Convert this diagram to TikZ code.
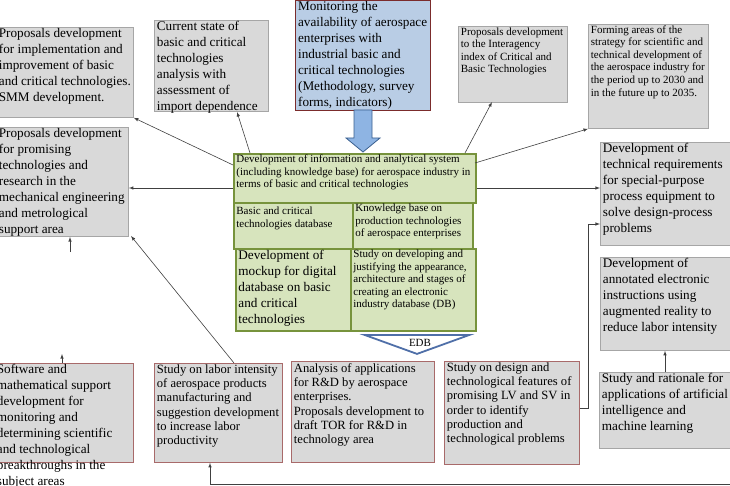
\documentclass[tikz,border=0pt]{standalone}
\usepackage{fontspec}
\usetikzlibrary{shapes.geometric}
\setmainfont{Liberation Serif}
\definecolor{gfill}{HTML}{D9D9D9}
\definecolor{gline}{HTML}{A6A6A6}
\definecolor{rline}{HTML}{A86A6A}
\definecolor{bfill}{HTML}{B9CDE5}
\definecolor{bline}{HTML}{7B2C2C}
\definecolor{grfill}{HTML}{D7E4BD}
\definecolor{grline}{HTML}{77933C}
\definecolor{arrfill}{HTML}{8EB4E3}
\definecolor{arrline}{HTML}{3A5F8F}
\definecolor{edbline}{HTML}{4F6FA8}
\tikzset{
  gbox/.style={draw=gline,fill=gfill,line width=0.8pt},
  rbox/.style={draw=rline,fill=gfill,line width=0.8pt},
  bbox/.style={draw=bline,fill=bfill,line width=1.2pt},
  grbox/.style={draw=grline,fill=grfill,line width=1.8pt},
  conn/.style={-latex,line width=0.6pt,draw=black!75},
}
% #1 style, #2 name, #3 x, #4 y, #5 w, #6 h, #7 font, #8 text
\newcommand\bx[8]{\node[#1,anchor=north west,minimum width=#5pt,minimum height=#6pt,inner sep=0pt] (#2) at (#3,#4) {\begin{minipage}[t][\dimexpr#6pt-2pt\relax][t]{\dimexpr#5pt-5pt\relax}\vspace{0pt}#7\raggedright #8\end{minipage}};}
\newcommand\fbig{\fontsize{13.2}{16}\selectfont}
\newcommand\fmid{\fontsize{12.6}{14.3}\selectfont}
\newcommand\fsml{\fontsize{11}{12.6}\selectfont}
\begin{document}
\begin{tikzpicture}[x=1pt,y=-1pt]
\useasboundingbox (0,0) rectangle (730,486);
\bx{gbox}{A}{-4}{27}{137}{90}{\fbig}{Proposals development for implementation and improvement of basic and critical technologies. SMM development.}
\bx{gbox}{B}{154}{20}{114}{91}{\fbig}{Current state of basic and critical technologies analysis with assessment of import dependence}
\bx{bbox}{C}{295}{0}{135}{110}{\fbig}{Monitoring the availability of aerospace enterprises with industrial basic and critical technologies (Methodology, survey forms, indicators)}
\bx{gbox}{D}{458}{26}{109}{76}{\fsml}{Proposals development to the Interagency index of Critical and Basic Technologies}
\bx{gbox}{E}{588}{24}{120}{104}{\fsml}{Forming areas of the strategy for scientific and technical development of the aerospace industry for the period up to 2030 and in the future up to 2035.}
\bx{gbox}{F}{-4}{127}{132}{109}{\fbig}{Proposals development for promising technologies and research in the mechanical engineering and metrological support area}
\bx{grbox}{G}{233}{153}{242}{49}{\fsml}{Development of information and analytical system (including knowledge base) for aerospace industry in terms of basic and critical technologies}
\bx{grbox}{H}{233}{202}{119}{46}{\fsml}{\vspace{3pt}Basic and critical technologies database}
\bx{grbox}{I}{352}{202}{120}{46}{\fsml}{Knowledge base on production technologies of aerospace enterprises}
\bx{grbox}{J}{235}{248}{115}{82}{\fbig}{Development of mockup for digital database on basic and critical technologies}
\bx{grbox}{K}{350}{248}{125}{82}{\fsml}{Study on developing and justifying the appearance, architecture and stages of creating an electronic industry database (DB)}
\bx{gbox}{L}{600}{142}{134}{103}{\fbig}{Development of technical requirements for special-purpose process equipment to solve design-process problems}
\bx{gbox}{M}{600}{257}{134}{93}{\fbig}{Development of annotated electronic instructions using augmented reality to reduce labor intensity}
\bx{gbox}{N}{599}{372}{135}{76}{\fbig}{Study and rationale for applications of artificial intelligence and machine learning}
\bx{rbox}{O}{-6}{363}{139}{99}{\fbig}{Software and mathematical support development for monitoring and determining scientific and technological breakthroughs in the subject areas}
\bx{rbox}{P}{154}{363}{128}{99}{\fmid}{Study on labor intensity of aerospace products manufacturing and suggestion development to increase labor productivity}
\bx{rbox}{Q}{291}{361}{143}{101}{\fmid}{\vspace{1pt}Analysis of applications for R\&D by aerospace enterprises.\\ Proposals development to draft TOR for R\&D in technology area}
\bx{rbox}{R}{444}{361}{135}{103}{\fmid}{Study on design and technological features of promising LV and SV in order to identify production and technological problems}
% block arrow
\draw[fill=arrfill,draw=arrline,line width=0.8pt] (354,110) -- (372,110) -- (372,138) -- (380,138) -- (363,152) -- (346,138) -- (354,138) -- cycle;
% EDB
\node[draw=edbline,fill=white,line width=1.8pt,isosceles triangle,shape border rotate=-90,isosceles triangle stretches,minimum width=105pt,minimum height=19pt,inner sep=0pt,anchor=north] (T) at (417,334) {};
\node[font=\fsml] (EDB) at (420,343) {EDB};
% connectors
\coordinate (g1) at (233,165);
\coordinate (g2) at (250,153);
\coordinate (g3) at (465,153);
\coordinate (g4) at (475,163);
\coordinate (bt) at (237,112);
\coordinate (dt) at (492,102);
\coordinate (pt) at (234,363);
\coordinate (ft) at (131,236);
\draw[conn] (g1) -- (A.south east);
\draw[conn] (g2) -- (bt);
\draw[conn] (G.west |- 0,188) -- (F.east |- 0,188);
\draw[conn] (g3) -- (dt);
\draw[conn] (g4) -- (E.south west);
\draw[conn] (G.east |- 0,188) -- (L.west |- 0,188);
\draw[conn] (pt) -- (ft);
\coordinate (s1) at (70,252);
\coordinate (s2) at (70,237);
\draw[conn] (s1) -- (s2);
\coordinate (o1) at (62,354);
\draw[conn] (O.north -| o1) -- (o1);
\draw[conn] (N.north -| 665,0) -- (M.south -| 665,0);
\draw[conn] (R.east |- 0,408) -- (588,408) -- (588,224) -- (L.west |- 0,224);
\coordinate (b1) at (210,484);
\coordinate (b2) at (730,484);
\draw[conn] (b2) -- (b1) -- (P.south -| b1);
\end{tikzpicture}
\end{document}
